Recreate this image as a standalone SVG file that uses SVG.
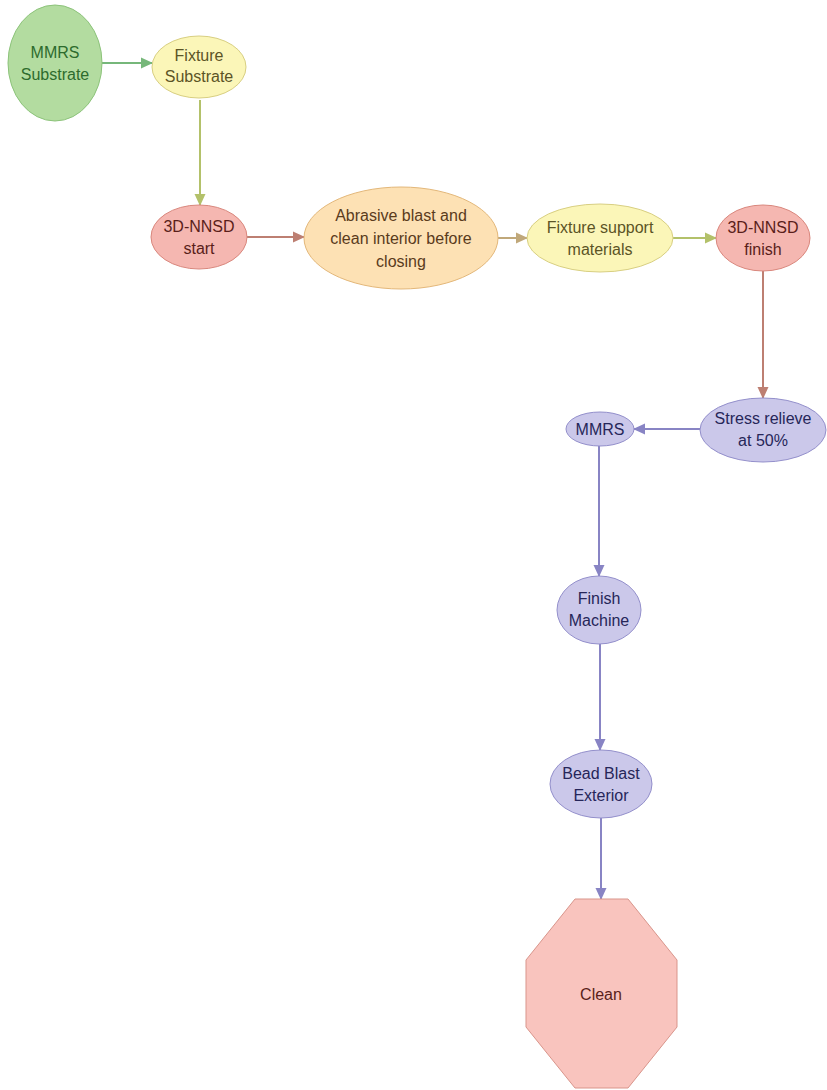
<svg xmlns="http://www.w3.org/2000/svg" width="827" height="1090" viewBox="0 0 827 1090">
<defs>
<marker id="aG" markerWidth="12" markerHeight="12" refX="11" refY="6" orient="auto" markerUnits="userSpaceOnUse"><path d="M0,0.5 L12,6 L0,11.5 Z" fill="#76b77a"/></marker>
<marker id="aO" markerWidth="12" markerHeight="12" refX="11" refY="6" orient="auto" markerUnits="userSpaceOnUse"><path d="M0,0.5 L12,6 L0,11.5 Z" fill="#b3c16a"/></marker>
<marker id="aB" markerWidth="12" markerHeight="12" refX="11" refY="6" orient="auto" markerUnits="userSpaceOnUse"><path d="M0,0.5 L12,6 L0,11.5 Z" fill="#bd7f72"/></marker>
<marker id="aT" markerWidth="12" markerHeight="12" refX="11" refY="6" orient="auto" markerUnits="userSpaceOnUse"><path d="M0,0.5 L12,6 L0,11.5 Z" fill="#c0a87a"/></marker>
<marker id="aP" markerWidth="12" markerHeight="12" refX="11" refY="6" orient="auto" markerUnits="userSpaceOnUse"><path d="M0,0.5 L12,6 L0,11.5 Z" fill="#8884c4"/></marker>
</defs>
<style>
text{font-family:"Liberation Sans",Arial,sans-serif;font-size:16px;text-anchor:middle}
.g{fill:#b3dca0;stroke:#8cc37a;stroke-width:1}
.y{fill:#fbf6b8;stroke:#d8cf82;stroke-width:1}
.r{fill:#f5b7b1;stroke:#d9877d;stroke-width:1}
.oc{fill:#f9c4be;stroke:#d9958b;stroke-width:1}
.o{fill:#fde1b4;stroke:#e3b779;stroke-width:1}
.p{fill:#cbc8ea;stroke:#938fcb;stroke-width:1}
.tg{fill:#2d6b2d}.ty{fill:#5b5426}.tr{fill:#5a1e1a}.to{fill:#5a3b1c}.tp{fill:#262659}
.c{fill:none;stroke-width:2}
</style>
<g id="connectors">
<line class="c" x1="102" y1="63" x2="152" y2="63" stroke="#76b77a" marker-end="url(#aG)"/>
<line class="c" x1="200" y1="100" x2="200" y2="205" stroke="#b3c16a" marker-end="url(#aO)"/>
<line class="c" x1="247" y1="237" x2="304" y2="237" stroke="#bd7f72" marker-end="url(#aB)"/>
<line class="c" x1="498" y1="238" x2="527" y2="238" stroke="#c0a87a" marker-end="url(#aT)"/>
<line class="c" x1="673" y1="238" x2="716" y2="238" stroke="#b3c16a" marker-end="url(#aO)"/>
<line class="c" x1="763" y1="270" x2="763" y2="398" stroke="#bd7f72" marker-end="url(#aB)"/>
<line class="c" x1="700" y1="429" x2="634" y2="429" stroke="#8884c4" marker-end="url(#aP)"/>
<line class="c" x1="599" y1="446" x2="599" y2="576" stroke="#8884c4" marker-end="url(#aP)"/>
<line class="c" x1="600" y1="644" x2="600" y2="750" stroke="#8884c4" marker-end="url(#aP)"/>
<line class="c" x1="601" y1="818" x2="601" y2="899" stroke="#8884c4" marker-end="url(#aP)"/>
</g>
<g id="mmrs-substrate"><ellipse class="g" cx="55" cy="63" rx="47" ry="58"/><text class="tg" x="55" y="58">MMRS</text><text class="tg" x="55" y="80">Substrate</text></g>
<g id="fixture-substrate"><ellipse class="y" cx="199" cy="67" rx="47" ry="31"/><text class="ty" x="199" y="61">Fixture</text><text class="ty" x="199" y="82">Substrate</text></g>
<g id="nnsd-start"><ellipse class="r" cx="199" cy="237" rx="48" ry="32"/><text class="tr" x="199" y="232">3D-NNSD</text><text class="tr" x="199" y="254">start</text></g>
<g id="abrasive"><ellipse class="o" cx="401" cy="238" rx="97" ry="51"/><text class="to" x="401" y="221">Abrasive blast and</text><text class="to" x="401" y="244">clean interior before</text><text class="to" x="401" y="267">closing</text></g>
<g id="fixture-support"><ellipse class="y" cx="600" cy="238" rx="73" ry="34"/><text class="ty" x="600" y="233">Fixture support</text><text class="ty" x="600" y="255">materials</text></g>
<g id="nnsd-finish"><ellipse class="r" cx="763" cy="238" rx="47" ry="33"/><text class="tr" x="763" y="233">3D-NNSD</text><text class="tr" x="763" y="255">finish</text></g>
<g id="stress-relieve"><ellipse class="p" cx="763" cy="430" rx="63" ry="32"/><text class="tp" x="763" y="424">Stress relieve</text><text class="tp" x="763" y="446">at 50%</text></g>
<g id="mmrs"><ellipse class="p" cx="600" cy="429" rx="34" ry="17"/><text class="tp" x="600" y="435">MMRS</text></g>
<g id="finish-machine"><ellipse class="p" cx="599" cy="610" rx="42" ry="34"/><text class="tp" x="599" y="604">Finish</text><text class="tp" x="599" y="626">Machine</text></g>
<g id="bead-blast"><ellipse class="p" cx="601" cy="784" rx="51" ry="34"/><text class="tp" x="601" y="779">Bead Blast</text><text class="tp" x="601" y="801">Exterior</text></g>
<g id="clean"><polygon class="oc" points="575,899 628,899 677,960 677,1027 628,1088 575,1088 526,1027 526,960"/><text class="tr" x="601" y="1000">Clean</text></g>
</svg>
